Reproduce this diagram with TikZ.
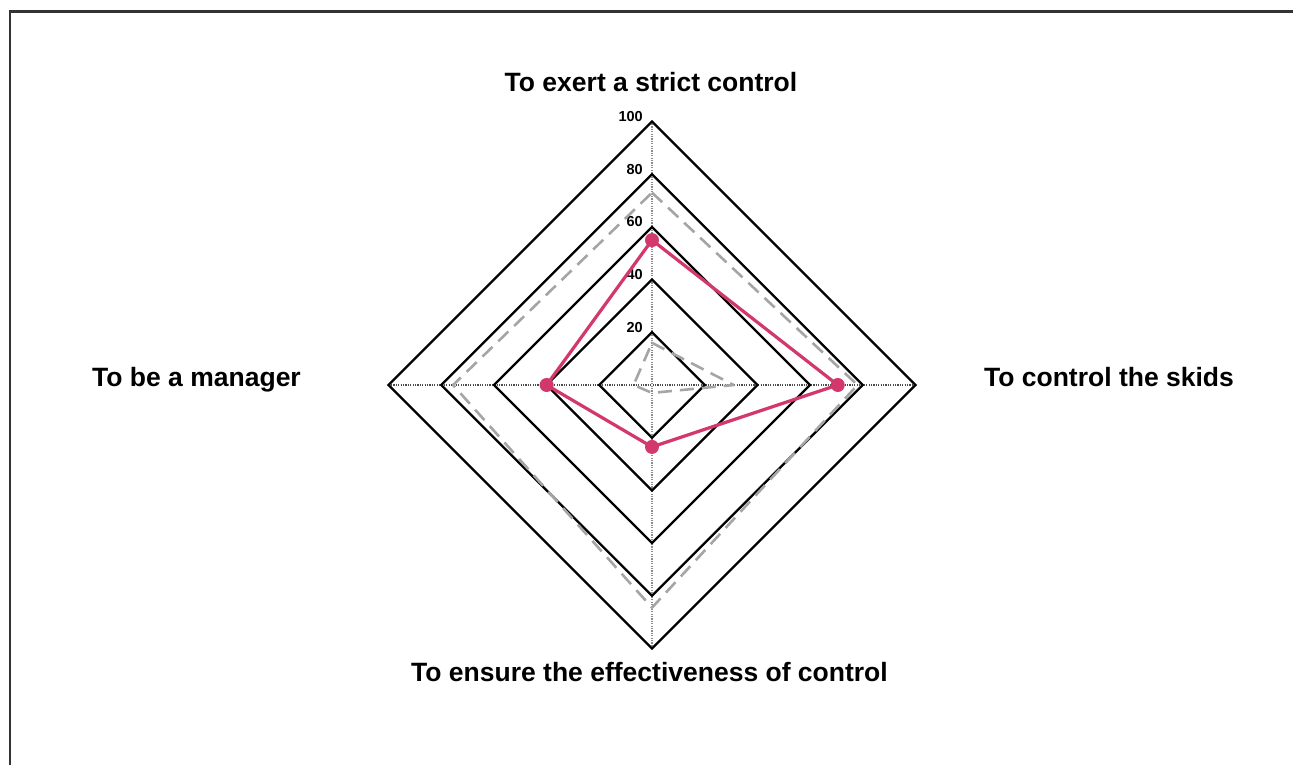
\documentclass[tikz,border=0pt]{standalone}
\usepackage{fontspec}
\setmainfont{Liberation Sans}
\definecolor{seriesred}{RGB}{210,56,108}
\definecolor{seriesgray}{RGB}{165,165,165}
\begin{document}
\begin{tikzpicture}[x=1pt,y=-1pt,
  axislabel/.style={font=\fontsize{26.5}{30}\selectfont\bfseries, inner sep=0pt, anchor=base},
  ticklabel/.style={font=\fontsize{14.5}{16}\selectfont\bfseries, inner sep=0pt, anchor=base east},
  gridline/.style={line width=2.3pt, black, line join=miter},
  spoke/.style={line width=1.1pt, black!45, dash pattern=on 1.2pt off 1.2pt},
  hspoke/.style={line width=1.1pt, black!70, dash pattern=on 1.2pt off 1.2pt},
  refseries/.style={line width=2.6pt, seriesgray, dash pattern=on 14pt off 8pt, line join=round},
  mainseries/.style={line width=3.2pt, seriesred, line join=round},
  marker/.style={circle, fill=seriesred, inner sep=0pt, minimum size=14pt},
  frame/.style={line width=2.6pt, black!80}
]
\def\ur{2.635}
\useasboundingbox (0,0) rectangle (1293,765);

% outer frame (left and top edges)
\draw[frame] (9.8,765) -- (9.8,11.3) -- (1293,11.3);

% chart centre and the 100 % ends of the four axes
\coordinate (c) at (652,385);
\coordinate (top) at (652,{385-100*\ur});
\coordinate (right) at ({652+100*\ur},385);
\coordinate (bottom) at (652,{385+100*\ur});
\coordinate (left) at ({652-100*\ur},385);

% axis spokes
\draw[spoke] (top) -- (bottom);
\draw[hspoke] (left) -- (right);

% grid diamonds and scale labels
\foreach \v in {20,40,60,80,100}{
  \draw[gridline] (652,{385-\v*\ur}) -- ({652+\v*\ur},385) -- (652,{385+\v*\ur}) -- ({652-\v*\ur},385) -- cycle;
  \node[ticklabel] (tick\v) at (643,{385-\v*\ur}) {\v};
}

% reference series (dashed)
\coordinate (ra) at (652,{385-73*\ur});
\coordinate (rb) at ({652+78*\ur},385);
\coordinate (rc) at (652,{385+84.5*\ur});
\coordinate (rd) at ({652-75.5*\ur},385);
\draw[refseries] (ra) -- (rb) -- (rc) -- (rd) -- cycle;

\coordinate (sa) at (652,{385-16*\ur});
\coordinate (sb) at ({652+31*\ur},385);
\coordinate (sc) at (652,{385+3*\ur});
\coordinate (sd) at ({652-7*\ur},385);
\draw[refseries] (sa) -- (sb) -- (sc) -- (sd) -- cycle;

% main series
\node[marker] (pa) at (652,{385-55*\ur}) {};
\node[marker] (pb) at ({652+70.5*\ur},385) {};
\node[marker] (pc) at (652,{385+23.5*\ur}) {};
\node[marker] (pd) at ({652-40*\ur},385) {};
\draw[mainseries] (pa.center) -- (pb.center) -- (pc.center) -- (pd.center) -- cycle;

% axis titles
\node[axislabel] (ax1) at (651,92) {To exert a strict control};
\node[axislabel] (ax2) at (1109,386) {To control the skids};
\node[axislabel] (ax3) at (649.5,681) {To ensure the effectiveness of control};
\node[axislabel] (ax4) at (196.5,386) {To be a manager};
\end{tikzpicture}
\end{document}
